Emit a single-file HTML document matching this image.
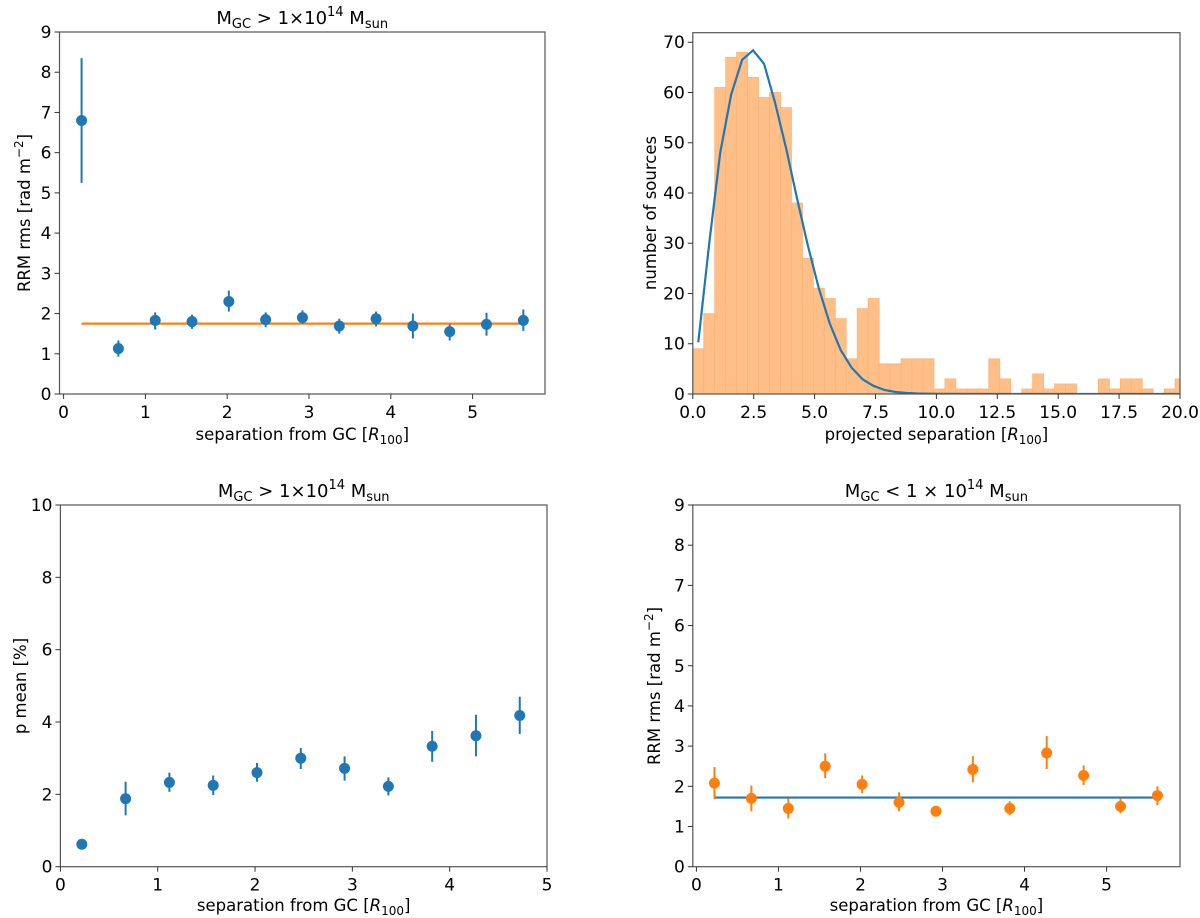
<!DOCTYPE html>
<html><head><meta charset="utf-8">
<style>
html,body{margin:0;padding:0;background:#fff;}
svg{display:block;font-family:"DejaVu Sans","Liberation Sans",sans-serif;}
</style></head>
<body>
<svg id="fig" width="1200" height="918" viewBox="0 0 1200 918" xmlns="http://www.w3.org/2000/svg"></svg>
<script>
// ---- data ----
const sepX = [0.22,0.67,1.12,1.57,2.02,2.47,2.92,3.37,3.82,4.27,4.72,5.17,5.62];
const rrmHigh = [6.8,1.13,1.83,1.8,2.3,1.85,1.9,1.69,1.87,1.69,1.55,1.73,1.83];
const rrmHighLo = [5.25,0.93,1.6,1.62,2.05,1.66,1.75,1.5,1.68,1.38,1.33,1.45,1.57];
const rrmHighHi = [8.35,1.33,2.03,1.97,2.57,2.03,2.08,1.87,2.05,2.0,1.73,2.02,2.1];
const rrmHighMean = [1.75];
const pX = [0.22,0.67,1.12,1.57,2.02,2.47,2.92,3.37,3.82,4.27,4.72];
const pMean = [0.62,1.88,2.33,2.25,2.6,3.0,2.72,2.22,3.33,3.62,4.18];
const pLo = [0.56,1.42,2.07,1.98,2.35,2.7,2.38,1.97,2.9,3.05,3.67];
const pHi = [0.68,2.35,2.6,2.52,2.87,3.28,3.05,2.47,3.75,4.2,4.7];
const rrmLow = [2.08,1.7,1.45,2.5,2.05,1.6,1.38,2.42,1.45,2.83,2.27,1.5,1.77];
const rrmLowLo = [1.68,1.38,1.2,2.2,1.83,1.38,1.25,2.1,1.28,2.43,2.03,1.33,1.53];
const rrmLowHi = [2.48,2.02,1.7,2.82,2.27,1.85,1.5,2.75,1.63,3.25,2.52,1.7,2.0];
const rrmLowMean = [1.72];
const histCounts = [9,16,61,67,68,63,59,60,57,38,27,21,19,15,7,17,19,6,6,7,7,7,1,3,1,1,1,7,3,0,1,4,1,2,2,0,0,3,1,3,3,1,0,1,3];
const binWidth = [0.45];
const fitX = [0.225,0.675,1.125,1.575,2.025,2.475,2.925,3.375,3.825,4.275,4.725,5.175,5.625,6.075,6.525,6.975,7.425,7.875,8.325,8.775,9.225,9.675,10.125,12,15,20];
const fitY = [10.3,30,48,59.6,66.5,68.4,65.7,58,49,39,29.5,21,14,8.7,5.2,2.9,1.6,0.8,0.4,0.2,0.1,0.05,0.02,0,0,0];
const ticksSep = [0,1,2,3,4,5];
const ticksRRM = [0,1,2,3,4,5,6,7,8,9];
const ticksP = [0,2,4,6,8,10];
const ticksHistX = [0,2.5,5,7.5,10,12.5,15,17.5,20];
const ticksHistY = [0,10,20,30,40,50,60,70];

const NS="http://www.w3.org/2000/svg";
const svg=document.getElementById('fig');
const BLUE="#1f77b4", ORANGE="#ff7f0e";
function mk(tag,attrs,parent){const e=document.createElementNS(NS,tag);for(const k in attrs)e.setAttribute(k,attrs[k]);(parent||svg).appendChild(e);return e;}

function panel(name,L,R,T,B,xmin,xmax,ymin,ymax){
  const g=mk('g',{});
  
  
  return {g,L,R,T,B,
    x:v=>L+(v-xmin)/(xmax-xmin)*(R-L),
    y:v=>B-(v-ymin)/(ymax-ymin)*(B-T)};
}
function frame(p){
  const r=mk('rect',{x:p.L,y:p.T,width:p.R-p.L,height:p.B-p.T,fill:'none',stroke:'#555','stroke-width':1.2},p.g);
  
  
}
function xticks(p,ticks,fmt){
  ticks.forEach(t=>{
    const X=p.x(t);
    mk('line',{x1:X,x2:X,y1:p.B,y2:p.B+5,stroke:'#333','stroke-width':1},p.g);
    const tx=mk('text',{x:X,y:p.B+24,'font-size':17,'text-anchor':'middle',fill:'#000'},p.g);
    tx.textContent=fmt?fmt(t):String(t);
    
    
  });
}
function yticks(p,ticks){
  ticks.forEach(t=>{
    const Y=p.y(t);
    mk('line',{x1:p.L-5,x2:p.L,y1:Y,y2:Y,stroke:'#333','stroke-width':1},p.g);
    const tx=mk('text',{x:p.L-8,y:Y+6,'font-size':17,'text-anchor':'end',fill:'#000'},p.g);
    tx.textContent=String(t);
    
    
  });
}
function html(p,x,y,markup,anchor,rot,name){
  const t=mk('text',{x:x,y:y,'font-size':16.5,'text-anchor':anchor||'middle',fill:'#000'},p.g);
  if(rot) t.setAttribute('transform','rotate(-90 '+x+' '+y+')');
  t.innerHTML=markup;
  
  
  return t;
}
function errorbars(p,xs,ys,lo,hi,color,name){
  xs.forEach((v,i)=>{
    const X=p.x(v);
    const l=mk('line',{x1:X,x2:X,y1:p.y(lo[i]),y2:p.y(hi[i]),stroke:color,'stroke-width':2},p.g);
    
    
    const c=mk('circle',{cx:X,cy:p.y(ys[i]),r:5.5,fill:color},p.g);
    
    
  });
}
const xlab='separation from GC [<tspan font-style="italic">R</tspan><tspan font-size="12" dy="4">100</tspan><tspan dy="-4">]</tspan>';
const rrmLab='RRM rms [rad m<tspan font-size="12" dy="-7">−2</tspan><tspan dy="7">]</tspan>';
const titleHigh='M<tspan font-size="13" dy="4">GC</tspan><tspan dy="-4"> &gt;  1×10</tspan><tspan font-size="13" dy="-8">14</tspan><tspan dy="8"> M</tspan><tspan font-size="13" dy="4">sun</tspan>';
const titleLow='M<tspan font-size="13" dy="4">GC</tspan><tspan dy="-4"> &lt; 1 × 10</tspan><tspan font-size="13" dy="-8">14</tspan><tspan dy="8"> M</tspan><tspan font-size="13" dy="4">sun</tspan>';

// Panel 1
{
 const p=panel('rrm-high-mass-panel',59.5,545,32,394,-0.05,5.885,0,9);
 frame(p);
 const ln=mk('line',{x1:p.x(sepX[0]),x2:p.x(sepX[sepX.length-1]),y1:p.y(rrmHighMean[0]),y2:p.y(rrmHighMean[0]),stroke:ORANGE,'stroke-width':2.2},p.g);
 
 
 errorbars(p,sepX,rrmHigh,rrmHighLo,rrmHighHi,BLUE,'rrm-high');
 xticks(p,ticksSep); yticks(p,ticksRRM);
 html(p,(p.L+p.R)/2,24,titleHigh,'middle',false,'chart-title').setAttribute('font-size',18);
 html(p,(p.L+p.R)/2,440,xlab,'middle',false,'x-axis-title');
 html(p,30,213,rrmLab,'middle',true,'y-axis-title');
}
// Panel 2 histogram
{
 const p=panel('histogram-panel',692.8,1180,32.7,394,0,20,0,71.9);
 const cg=mk('g',{},p.g);
 
 
 const clip=mk('clipPath',{id:'hclip'});
 mk('rect',{x:p.L,y:p.T,width:p.R-p.L,height:p.B-p.T},clip);
 cg.setAttribute('clip-path','url(#hclip)');
 histCounts.forEach((c,i)=>{
   const x0=p.x(i*binWidth[0]), x1=p.x((i+1)*binWidth[0]);
   if(c<=0) return;
   const r=mk('rect',{x:x0,y:p.y(c),width:x1-x0,height:p.B-p.y(c),fill:'#ffbf87',stroke:'#fbb47a','stroke-width':0.8},cg);
   
   
 });
 const pts=fitX.map((v,i)=>p.x(v)+','+p.y(fitY[i])).join(' ');
 const pl=mk('polyline',{points:pts,fill:'none',stroke:BLUE,'stroke-width':2.2},cg);
 
 
 frame(p);
 xticks(p,ticksHistX,t=>t.toFixed(1)); yticks(p,ticksHistY);
 html(p,(p.L+p.R)/2,440,'projected separation [<tspan font-style="italic">R</tspan><tspan font-size="12" dy="4">100</tspan><tspan dy="-4">]</tspan>','middle',false,'x-axis-title');
 html(p,656,213,'number of sources','middle',true,'y-axis-title');
}
// Panel 3
{
 const p=panel('p-mean-panel',60.4,547,505,866.7,0,5,0,10);
 frame(p);
 errorbars(p,pX,pMean,pLo,pHi,BLUE,'p-mean');
 xticks(p,ticksSep); yticks(p,ticksP);
 html(p,(p.L+p.R)/2,497,titleHigh,'middle',false,'chart-title').setAttribute('font-size',18);
 html(p,(p.L+p.R)/2,911,xlab,'middle',false,'x-axis-title');
 html(p,26,686,'p mean [%]','middle',true,'y-axis-title');
}
// Panel 4
{
 const p=panel('rrm-low-mass-panel',692.8,1180,505,866.7,-0.044,5.895,0,9);
 frame(p);
 const ln=mk('line',{x1:p.x(sepX[0]),x2:p.x(sepX[sepX.length-1]),y1:p.y(rrmLowMean[0]),y2:p.y(rrmLowMean[0]),stroke:BLUE,'stroke-width':2.2},p.g);
 
 
 errorbars(p,sepX,rrmLow,rrmLowLo,rrmLowHi,ORANGE,'rrm-low');
 xticks(p,ticksSep); yticks(p,ticksRRM);
 html(p,(p.L+p.R)/2,497,titleLow,'middle',false,'chart-title').setAttribute('font-size',18);
 html(p,(p.L+p.R)/2,911,xlab,'middle',false,'x-axis-title');
 html(p,660,686,rrmLab,'middle',true,'y-axis-title');
}
</script>
</body></html>
